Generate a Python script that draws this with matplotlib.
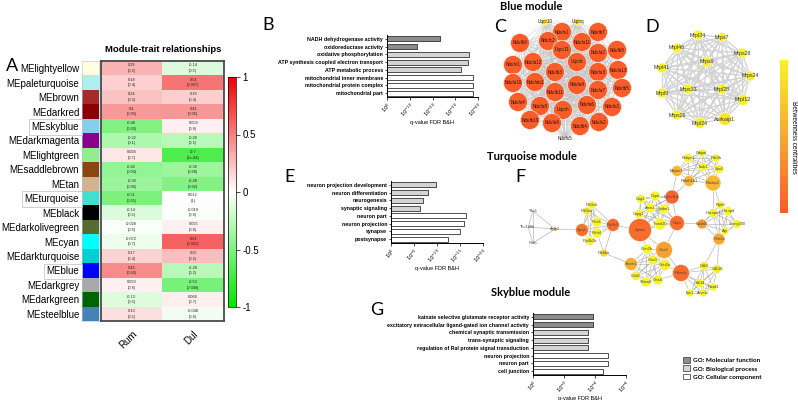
import numpy as np
import matplotlib
matplotlib.use('Agg')
import matplotlib.pyplot as plt
from matplotlib.colors import LinearSegmentedColormap, to_rgb
from matplotlib.patches import Patch
from matplotlib.collections import LineCollection
from itertools import combinations

# ---------------- DATA ----------------
modules = ['MElightyellow', 'MEpaleturquoise', 'MEbrown', 'MEdarkred', 'MEskyblue',
           'MEdarkmagenta', 'MElightgreen', 'MEsaddlebrown', 'MEtan', 'MEturquoise',
           'MEblack', 'MEdarkolivegreen', 'MEcyan', 'MEdarkturquoise', 'MEblue',
           'MEdarkgrey', 'MEdarkgreen', 'MEsteelblue']
module_colors = ['lightyellow', 'paleturquoise', 'brown', 'darkred', 'skyblue',
                 'darkmagenta', 'lightgreen', 'saddlebrown', 'tan', 'turquoise',
                 'black', 'darkolivegreen', 'cyan', 'darkturquoise', 'blue',
                 'darkgrey', 'darkgreen', 'steelblue']
boxed_modules = ['MEskyblue', 'MEturquoise', 'MEblue']
traits = ['Rum', 'Dul']
rum_r = [0.29, 0.18, 0.24, 0.4, -0.48, -0.32, 0.094, -0.42, -0.39, -0.51,
         -0.14, -0.028, -0.072, 0.17, 0.46, 0.059, -0.13, 0.13]
rum_p = ['0.2', '0.4', '0.3', '0.05', '0.02', '0.1', '0.7', '0.04', '0.06', '0.01',
         '0.5', '0.9', '0.7', '0.4', '0.02', '0.8', '0.5', '0.5']
dul_r = [-0.14, 0.54, 0.19, 0.41, 0.059, -0.28, -0.7, -0.38, -0.48, 0.012,
         -0.019, 0.055, 0.61, 0.25, -0.28, -0.53, 0.066, -0.048]
dul_p = ['0.5', '0.007', '0.4', '0.05', '0.8', '0.2', '1e-04', '0.08', '0.02', '1',
         '0.9', '0.8', '0.001', '0.2', '0.2', '0.008', '0.7', '0.8']
cbar_ticks = [-1, -0.5, 0, 0.5, 1]
cbar_ticklabels = ['-1', '-0.5', '0', '0.5', '1']

go_cats = ['GO: Molecular function', 'GO: Biological process', 'GO: Cellular component']

B_terms = ['NADH dehydrogenase activity', 'oxidoreductase activity', 'oxidative phosphorylation',
           'ATP synthesis coupled electron transport', 'ATP metabolic process',
           'mitochondrial inner membrane', 'mitochondrial protein complex', 'mitochondrial part']
B_logq = [23.2, 13.3, 36.0, 35.6, 32.4, 37.6, 37.6, 37.6]
B_cat = [0, 0, 1, 1, 1, 2, 2, 2]
B_ticks = [0, 10, 20, 30, 40]

E_terms = ['neuron projection development', 'neuron differentiation', 'neurogenesis',
           'synaptic signaling', 'neuron part', 'neuron projection', 'synapse', 'postsynapse']
E_logq = [9.8, 8.0, 7.0, 6.2, 16.4, 15.8, 15.0, 12.4]
E_cat = [1, 1, 1, 1, 2, 2, 2, 2]
E_ticks = [0, 5, 10, 15, 20]

G_terms = ['kainate selective glutamate receptor activity',
           'excitatory extracellular ligand-gated ion channel activity',
           'chemical synaptic transmission', 'trans-synaptic signaling',
           'regulation of Ral protein signal transduction', 'neuron projection',
           'neuron part', 'cell junction']
G_logq = [3.87, 3.87, 3.55, 3.55, 3.55, 4.84, 4.84, 4.5]
G_cat = [0, 0, 1, 1, 1, 2, 2, 2]
G_ticks = [0, 2, 4, 6]

# Network C (blue module): name, layout x, layout y, betweenness (0..1)
C_names = ['Uqcr10', 'Uqcrq', 'Ndufs1', 'Ndufb7', 'Ndufb9', 'Ndufc2', 'Ndufa11', 'Ndufb8',
           'Uqcr11', 'Ndufa2', 'Ndufv1', 'Ndufa12', 'Uqcrb', 'Ndufb3', 'Ndufa3', 'Ndufa13',
           'Ndufa10', 'Ndufab1', 'Ndufa4', 'Ndufa7', 'Ndufb5', 'Ndufb11', 'Ndufs4', 'Ndufa8',
           'Uqcrh', 'Ndufa6', 'Ndufs3', 'Ndufb10', 'Ndufa9', 'Ndufb4', 'Ndufs2', 'Ndufs5']
C_x = [545, 578, 562, 598, 520, 548, 582, 617, 562, 598, 513, 533, 577, 555, 598, 618,
       513, 535, 577, 598, 622, 555, 518, 540, 563, 587, 612, 530, 552, 580, 599, 565]
C_y = [22, 22, 32, 32, 43, 41, 42, 50, 50, 53, 65, 62, 62, 72, 72, 70,
       83, 82, 85, 90, 88, 92, 102, 106, 110, 105, 107, 120, 123, 126, 122, 138]
C_bw = [0.0, 0.0] + [1.0] * 29 + [1.0]
C_size = [7, 7] + [19] * 29 + [0]

# Network D
D_names = ['Mrpl34', 'Mrps7', 'Mrpl46', 'Mrps28', 'Mrps9', 'Mrpl41', 'Mrps24', 'Mrps33',
           'Mrpl28', 'Mrpl9', 'Mrpl12', 'Mrps26', 'Mrpl24', 'Aurkaip1']
D_x = [698, 722, 677, 742, 707, 662, 750, 688, 722, 662, 743, 677, 700, 725]
D_y = [35, 37, 48, 53, 62, 68, 76, 89, 89, 93, 100, 115, 123, 119]
D_bw = [0.0, 0.05, 0.0, 0.0, 0.05, 0.0, 0.05, 0.0, 0.05, 0.0, 0.05, 0.0, 0.05, 0.1]
D_size = [10, 9, 10, 10, 10, 10, 10, 10, 10, 10, 11, 10, 11, 13]

# Network F (turquoise module)
F_names = ['Ybx1', 'Tbc1d8b', 'Purb', 'Aplp2', 'Synj1', 'Pik3cb', 'Pik3ca', 'Plcb1', 'Plcb4',
           'Pip4k2b', 'Pip5k1', 'Plekho', 'Spnac', 'Copa', 'Cog2', 'Dync1h1', 'Arcn1',
           'Sptbn1', 'Copg1', 'Tmed10', 'Uso1', 'Gria2', 'Grin2b', 'Gria3', 'Grin2a',
           'Sacm1', 'Grid2', 'Shisa6', 'Gria4', 'Prkacb', 'Cdk5', 'Cdk18', 'Cdk14', 'Rasd1',
           'Erc1', 'Acvr1c', 'Polr2a', 'Hnrnpa3', 'Hnrnpd', 'Prpf8', 'Snrnp200', 'Agr',
           'Nedd4', 'Mapre1', 'Pabpn1', 'Wapal', 'Pds5b', 'Taok1', 'Xpo1', 'Pafah1b1', 'Ranbp2']
F_x = [533, 528, 533, 555, 582, 592, 587, 597, 597, 590, 613, 604, 640, 655, 641, 672, 650,
       664, 639, 660, 677, 664, 647, 653, 665, 631, 636, 646, 658, 681, 704, 717, 700, 713,
       690, 703, 719, 713, 728, 720, 737, 725, 702, 677, 688, 702, 716, 703, 719, 689, 713]
F_y = [211, 227, 243, 229, 230, 205, 211, 222, 233, 241, 225, 253, 230, 196, 199, 197, 208,
       209, 214, 224, 223, 250, 249, 260, 265, 264, 276, 282, 280, 273, 266, 269, 283, 287,
       293, 293, 239, 213, 211, 205, 224, 231, 224, 171, 158, 153, 158, 167, 169, 181, 183]
F_bw = [0, 0, 0, 0.5, 0.85, 0, 0.1, 0, 0, 0, 0.9, 0.2, 0.9, 0, 0, 0.95, 0, 0, 0, 0, 0.9,
        0.55, 0, 0, 0.05, 0.45, 0, 0, 0, 0.9, 0.05, 0.05, 0, 0, 0, 0, 0.5, 0.05, 0, 0,
        0, 0, 0.6, 0.4, 0, 0, 0, 0, 0, 0.45, 0.4]
F_size = [0, 0, 0, 4, 13, 8, 8, 10, 10, 9, 13, 8, 23, 10, 9, 14, 10, 10, 9, 12, 15,
          17, 10, 10, 11, 13, 9, 10, 10, 17, 9, 9, 9, 8, 8, 8, 12, 9, 9, 8, 9, 8,
          10, 11, 9, 8, 8, 9, 9, 11, 16]
F_groups = [['Ybx1', 'Tbc1d8b', 'Purb', 'Aplp2'],
            ['Synj1', 'Pik3cb', 'Pik3ca', 'Plcb1', 'Plcb4', 'Pip4k2b', 'Pip5k1'],
            ['Spnac', 'Copa', 'Cog2', 'Dync1h1', 'Arcn1', 'Sptbn1', 'Copg1', 'Tmed10', 'Uso1'],
            ['Gria2', 'Grin2b', 'Gria3', 'Grin2a', 'Sacm1', 'Grid2', 'Shisa6', 'Gria4'],
            ['Prkacb', 'Cdk5', 'Cdk18', 'Cdk14', 'Rasd1', 'Erc1', 'Acvr1c'],
            ['Polr2a', 'Hnrnpa3', 'Hnrnpd', 'Prpf8', 'Snrnp200', 'Agr', 'Nedd4'],
            ['Mapre1', 'Pabpn1', 'Wapal', 'Pds5b', 'Taok1', 'Xpo1', 'Pafah1b1', 'Ranbp2']]
F_bridges = [('Aplp2', 'Synj1'), ('Pip5k1', 'Spnac'), ('Pip5k1', 'Plekho'), ('Plcb4', 'Plekho'),
             ('Plekho', 'Sacm1'), ('Spnac', 'Gria2'), ('Uso1', 'Gria2'), ('Uso1', 'Nedd4'),
             ('Dync1h1', 'Pafah1b1'), ('Dync1h1', 'Mapre1'), ('Gria2', 'Prkacb'),
             ('Grin2a', 'Prkacb'), ('Polr2a', 'Cdk5'), ('Polr2a', 'Cdk18'), ('Ranbp2', 'Prpf8'),
             ('Ranbp2', 'Hnrnpa3'), ('Prkacb', 'Gria4'), ('Spnac', 'Grin2b')]

# ---------------- FIGURE ----------------
W, H = 798, 400
fig = plt.figure(figsize=(W / 100, H / 100), dpi=100)
SANS = ['Liberation Sans', 'DejaVu Sans']
HEAD = ['Lato', 'DejaVu Sans']
plt.rcParams['font.family'] = SANS


def px_axes(x0, y0, x1, y1, **kw):
    return fig.add_axes([x0 / W, 1 - y1 / H, (x1 - x0) / W, (y1 - y0) / H], **kw)


# overlay axes in pixel coordinates (for networks and labels)
ov = px_axes(0, 0, W, H)
ov.set_xlim(0, W)
ov.set_ylim(H, 0)
ov.axis('off')
ov.set_zorder(0)

# ---- Panel A: heatmap ----
mt_cmap = LinearSegmentedColormap.from_list('gwr', ['#00e600', '#ffffff', '#f00000'])
ax = px_axes(101, 61, 224, 321)
data = np.column_stack([rum_r, dul_r])
im = ax.imshow(data, cmap=mt_cmap, vmin=-1, vmax=1, aspect='auto', interpolation='nearest')
for i in range(len(modules)):
    for j, (r, p) in enumerate([(rum_r, rum_p), (dul_r, dul_p)]):
        ax.text(j, i, f'{r[i]:g}\n({p[i]})', ha='center', va='center', fontsize=2.8,
                linespacing=1.5, color='#222222')
ax.set_yticks([])
ax.set_xticks(range(len(traits)))
ax.set_xticklabels(traits, rotation=45, ha='right', va='top', fontsize=7,
                   rotation_mode='anchor')
ax.tick_params(axis='x', length=0, pad=6)
for s in ax.spines.values():
    s.set_color('#4a4a4a')
    s.set_linewidth(1.3)

sw = px_axes(82, 61, 99, 321)
sw.imshow(np.array([[to_rgb(c)] for c in module_colors]), aspect='auto', interpolation='nearest')
sw.set_xticks([])
sw.set_yticks(range(len(modules)))
sw.set_yticklabels(modules, fontsize=7)
sw.tick_params(axis='y', length=0, pad=2)
for lab in sw.get_yticklabels():
    if lab.get_text() in boxed_modules:
        lab.set_bbox(dict(boxstyle='square,pad=0.3', fc='none', ec='#c8c8c8', lw=0.6))
for s in sw.spines.values():
    s.set_color('#9ecae1')
    s.set_linewidth(0.4)

cax = px_axes(228, 77, 236, 307)
cb = fig.colorbar(im, cax=cax, ticks=cbar_ticks)
cb.set_ticklabels(cbar_ticklabels)
cax.tick_params(labelsize=7, length=3, width=0.5, pad=1.5)
cb.outline.set_linewidth(0.5)

ov.text(163, 50, 'Module-trait relationships', ha='center', va='center', fontsize=6.8,
        fontweight='bold')

# ---- GO bar charts ----
cat_colors = ['#8c8c8c', '#d4d4d4', '#ffffff']


def go_bars(box, terms, vals, cats, ticks):
    a = px_axes(*box)
    y = np.arange(len(terms))
    a.barh(y, vals, height=0.62, color=[cat_colors[c] for c in cats], edgecolor='#222222',
           linewidth=0.55)
    a.set_ylim(len(terms) - 0.5, -0.5)
    a.set_xlim(0, ticks[-1])
    a.set_yticks(y)
    a.set_yticklabels(terms, fontsize=3.8, fontweight='bold')
    a.set_xticks(ticks)
    a.set_xticklabels([f'$10^{{{-t}}}$' if t else '$10^{0}$' for t in ticks], fontsize=3.8,
                      rotation=45, ha='right', va='top', rotation_mode='anchor')
    a.set_xlabel('q-value FDR B&H', fontsize=4, labelpad=0.5)
    a.tick_params(axis='both', length=1.8, width=0.5, pad=1)
    for s in ['top', 'right']:
        a.spines[s].set_visible(False)
    for s in ['left', 'bottom']:
        a.spines[s].set_linewidth(0.7)
    return a


go_bars((387, 35, 478, 97), B_terms, B_logq, B_cat, B_ticks)
go_bars((391, 181, 483, 243), E_terms, E_logq, E_cat, E_ticks)
go_bars((533, 313, 626, 375), G_terms, G_logq, G_cat, G_ticks)

# ---- Networks ----
bw_cmap = LinearSegmentedColormap.from_list('bw', ['#f7f52a', '#f8a834', '#fa5d29'])


def draw_net(names, xs, ys, bws, sizes, edges, ecol, elw, fs, lcol):
    idx = {n: i for i, n in enumerate(names)}
    segs = [[(xs[idx[a]], ys[idx[a]]), (xs[idx[b]], ys[idx[b]])] for a, b in edges]
    ov.add_collection(LineCollection(segs, colors=ecol, linewidths=elw, zorder=1))
    s = [(0.72 * d) ** 2 for d in sizes]
    ov.scatter(xs, ys, s=s, c=[bw_cmap(b) for b in bws], edgecolors='white', linewidths=0.4,
               zorder=2)
    for n, x, y in zip(names, xs, ys):
        ov.text(x, y, n, ha='center', va='center', fontsize=fs, color=lcol, zorder=3)


C_edges = list(combinations(C_names, 2))
draw_net(C_names, C_x, C_y, C_bw, C_size, C_edges, '#c4c4c4', 0.3, 3.3, '#2a1208')
D_edges = list(combinations(D_names, 2))
draw_net(D_names, D_x, D_y, D_bw, D_size, D_edges, '#d2d2d2', 0.9, 3.8, '#333333')
F_edges = [e for g in F_groups for e in combinations(g, 2)] + F_bridges
draw_net(F_names, F_x, F_y, F_bw, F_size, F_edges, '#a8a8a8', 0.4, 2.9, '#444444')

# betweenness colorbar
bax = px_axes(780, 60, 788, 213)
bax.imshow(np.linspace(0, 1, 256)[:, None], cmap=bw_cmap, aspect='auto')
bax.axis('off')
ov.text(794, 137, 'Betweenness centralities', rotation=270, ha='center', va='center',
        fontsize=4.8, family=HEAD)

# headings and panel letters
for txt, x, y in [('Blue module', 531, 7), ('Turquoise module', 532, 157),
                  ('Skyblue module', 531, 293)]:
    ov.text(x, y, txt, ha='center', va='center', fontsize=8, fontweight='bold', family=HEAD)
for txt, x, y in [('A', 12, 66), ('B', 268, 25), ('C', 500, 27), ('D', 652, 27),
                  ('E', 290, 177), ('F', 520, 177), ('G', 377, 310)]:
    ov.text(x, y, txt, ha='center', va='center', fontsize=13, family=HEAD)

# legend
handles = [Patch(facecolor=c, edgecolor='#333333', linewidth=0.5, label=l)
           for c, l in zip(cat_colors, go_cats)]
leg = ov.legend(handles=handles, loc='upper left', bbox_to_anchor=(680 / W, 1 - 354 / H),
                bbox_transform=fig.transFigure, frameon=False, handlelength=1.0,
                handleheight=1.0, handletextpad=0.5, labelspacing=0.35, borderpad=0,
                prop={'family': HEAD, 'weight': 'bold', 'size': 4.6})

fig.savefig('out.png', dpi=100)
